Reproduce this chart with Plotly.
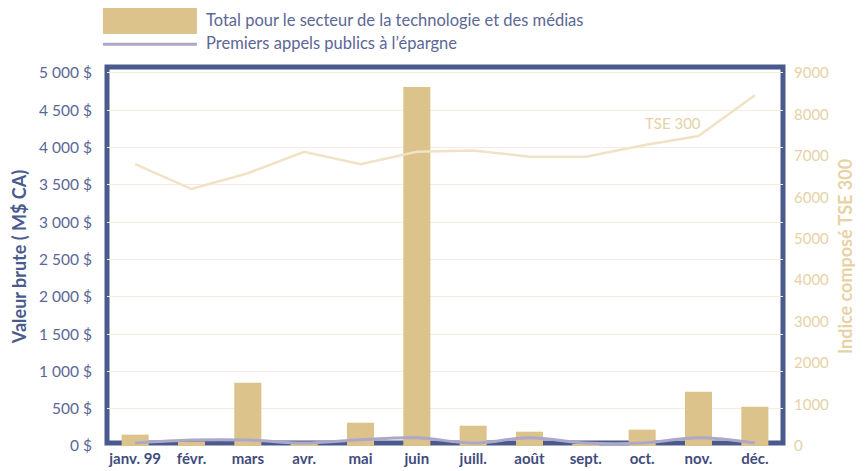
import plotly.graph_objects as go

months = ["janv. 99", "févr.", "mars", "avr.", "mai", "juin", "juill.", "août", "sept.", "oct.", "nov.", "déc."]
tech_total = [152, 60, 848, 40, 312, 4812, 272, 192, 15, 219, 728, 527]
ipo = [40, 80, 80, 40, 85, 110, 40, 110, 40, 40, 110, 40]
tse300 = [6800, 6200, 6580, 7100, 6800, 7100, 7130, 6980, 6980, 7250, 7480, 8460]

left_ticks = list(range(0, 5001, 500))
left_text = [f"{v:,}".replace(",", " ") + " $" for v in left_ticks]
right_ticks = list(range(0, 9001, 1000))

NAVY = "#4a5a8c"
TICKNAVY = "#5b6796"
TAN = "#dcc38b"
BEIGE = "#e6d2a6"
FONT = "Lato"

fig = go.Figure()
fig.add_trace(go.Bar(x=months, y=tech_total, marker_color=TAN, marker_line_width=0,
                     name="Total pour le secteur de la technologie et des médias"))
fig.add_trace(go.Scatter(x=months, y=ipo, mode="lines", line=dict(color="#aba8ca", width=3, shape="spline"),
                         name="Premiers appels publics à l’épargne"))
fig.add_trace(go.Scatter(x=months, y=tse300, mode="lines", yaxis="y2",
                         line=dict(color="#f1e2c6", width=2.5), name="TSE 300"))

fig.update_layout(
    width=859, height=463,
    margin=dict(l=99, r=84, t=59, b=25),
    paper_bgcolor="white", plot_bgcolor="white",
    showlegend=False,
    bargap=0.52,
    font=dict(family=FONT),
    xaxis=dict(type="category", range=[-0.5, 11.5], showgrid=False, zeroline=False, showline=False,
               automargin=False,
               tickfont=dict(family=FONT, size=15, color="#3f4c7c", weight="bold"),
               ticks="", ticklabelstandoff=2),
    yaxis=dict(range=[0, 5080], tickvals=left_ticks, ticktext=left_text, automargin=False,
               showgrid=True, gridcolor="#f4ece0", gridwidth=1, zeroline=False, showline=False,
               tickfont=dict(family=FONT, size=15.5, color=TICKNAVY), ticklabelstandoff=14,
               title=dict(text="Valeur brute ( M$ CA)", font=dict(family=FONT, size=18, color=NAVY, weight="bold"),
                          standoff=10)),
    yaxis2=dict(range=[0, 9144], tickvals=right_ticks, overlaying="y", side="right", automargin=False,
                showgrid=False, zeroline=False, showline=False,
                tickfont=dict(family=FONT, size=15, color=BEIGE), ticklabelstandoff=10,
                title=dict(text="Indice composé TSE 300", font=dict(family=FONT, size=18, color=BEIGE, weight="bold"),
                           standoff=11)),
)

# frame (drawn beneath the data, as in the reference)
fig.add_shape(type="rect", xref="paper", yref="paper", x0=0, x1=1, y0=0.008, y1=1,
              line=dict(color=NAVY, width=5), layer="below")

# legend drawn manually
fig.add_shape(type="rect", xref="paper", yref="paper", x0=-0.006, x1=0.133, y0=1.087, y1=1.157,
              fillcolor=TAN, line_width=0)
fig.add_shape(type="line", xref="paper", yref="paper", x0=-0.006, x1=0.133, y0=1.06, y1=1.06,
              line=dict(color="#aba8ca", width=3))
fig.add_annotation(xref="paper", yref="paper", x=0.144, y=1.125, xanchor="left", yanchor="middle",
                   text="Total pour le secteur de la technologie et des médias", showarrow=False,
                   font=dict(family=FONT, size=16.5, color=TICKNAVY))
fig.add_annotation(xref="paper", yref="paper", x=0.144, y=1.063, xanchor="left", yanchor="middle",
                   text="Premiers appels publics à l’épargne", showarrow=False,
                   font=dict(family=FONT, size=16.5, color=TICKNAVY))
# TSE label
fig.add_annotation(x=9.55, y=7800, yref="y2", text="TSE 300", showarrow=False,
                   font=dict(family=FONT, size=15, color=BEIGE))

fig.write_html("out.html")
